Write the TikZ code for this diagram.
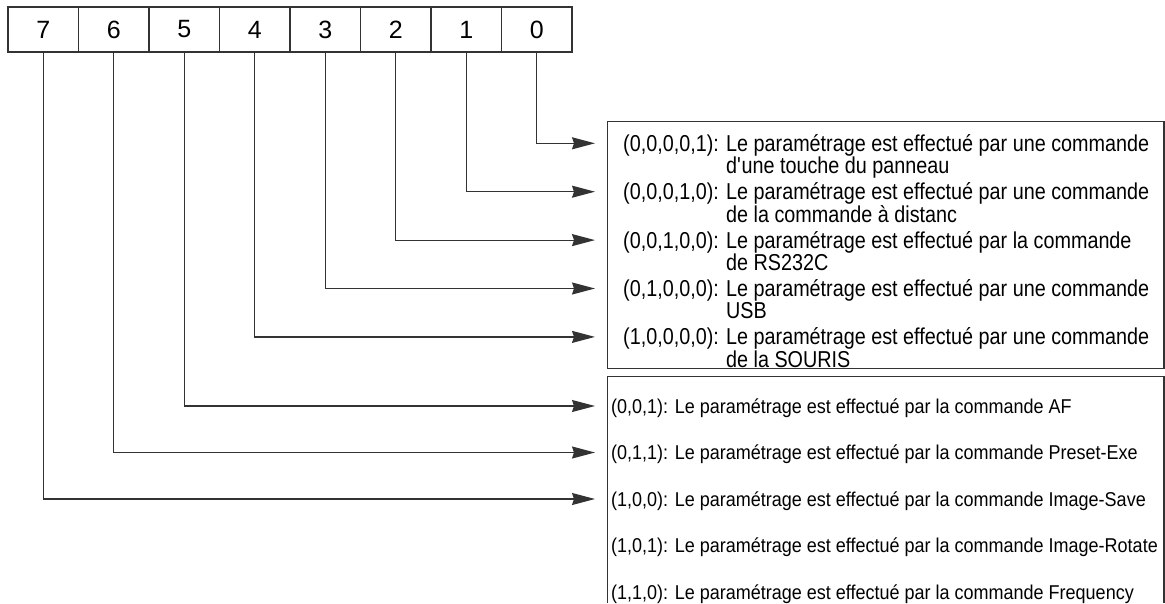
\documentclass[tikz,border=0pt]{standalone}
\usepackage{fontspec}
\setmainfont{Liberation Sans}
\newfontfamily\narrowsans{Liberation Sans}[FakeStretch=0.86]
\newfontfamily\condsans{Liberation Sans}[FakeStretch=0.9]
\usepackage{tikz}
\usetikzlibrary{arrows.meta, positioning}
\definecolor{wiregray}{RGB}{51, 51, 51}

\tikzset{
    bitcell/.style={draw=wiregray, line width=1.2pt, minimum width=70.5pt, minimum height=45pt,
        inner sep=0pt, outer sep=0pt, font=\fontsize{25}{30}\selectfont},
    wire/.style={draw=wiregray, line width=1.2pt, -{Stealth[length=23pt, width=12pt, inset=2pt]}},
    frame/.style={draw=wiregray, line width=1.2pt},
    srcline/.style={anchor=base west, inner sep=0pt, font=\narrowsans\fontsize{23}{20}\selectfont},
    cmdline/.style={anchor=base west, inner sep=0pt, font=\condsans\fontsize{20}{20}\selectfont}
}

\begin{document}
\begin{tikzpicture}[x=1pt, y=-1pt]
    \useasboundingbox (0,0) rectangle (1165,603);

    % Register bits
    \node[bitcell] (b7) at (43.25,29.5) {7};
    \node[bitcell, right=0pt of b7] (b6) {6};
    \node[bitcell, right=0pt of b6] (b5) {5};
    \node[bitcell, right=0pt of b5] (b4) {4};
    \node[bitcell, right=0pt of b4] (b3) {3};
    \node[bitcell, right=0pt of b3] (b2) {2};
    \node[bitcell, right=0pt of b2] (b1) {1};
    \node[bitcell, right=0pt of b1] (b0) {0};

    % Frames round the settings
    \draw[frame] (607.5,121.5) rectangle (1164,368.5);
    \draw[frame] (607.5,603) -- (607.5,376.5) -- (1164,376.5) -- (1164,603);

    % Arrow ends
    \coordinate (in0) at (595,143.3);
    \coordinate (in1) at (595,191.7);
    \coordinate (in2) at (595,240.1);
    \coordinate (in3) at (595,288.5);
    \coordinate (in4) at (595,336.9);
    \coordinate (in5) at (595,406);
    \coordinate (in6) at (595,452.5);
    \coordinate (in7) at (595,499);

    % Bit lines
    \draw[wire] (b0.south) |- (in0);
    \draw[wire] (b1.south) |- (in1);
    \draw[wire] (b2.south) |- (in2);
    \draw[wire] (b3.south) |- (in3);
    \draw[wire] (b4.south) |- (in4);
    \draw[wire] (b5.south) |- (in5);
    \draw[wire] (b6.south) |- (in6);
    \draw[wire] (b7.south) |- (in7);

    % Source of the setting (bits 0-4)
    \node[srcline] (s0) at (623,151.3) {\begin{tabular}[t]{@{}l@{ }l@{}}(0,0,0,0,1): & Le paramétrage est effectué par une commande\\ & d\textquotesingle une touche du panneau\end{tabular}};
    \node[srcline] (s1) at (623,199.7) {\begin{tabular}[t]{@{}l@{ }l@{}}(0,0,0,1,0): & Le paramétrage est effectué par une commande\\ & de la commande à distanc\end{tabular}};
    \node[srcline] (s2) at (623,248.1) {\begin{tabular}[t]{@{}l@{ }l@{}}(0,0,1,0,0): & Le paramétrage est effectué par la commande\\ & de RS232C\end{tabular}};
    \node[srcline] (s3) at (623,296.5) {\begin{tabular}[t]{@{}l@{ }l@{}}(0,1,0,0,0): & Le paramétrage est effectué par une commande\\ & USB\end{tabular}};
    \node[srcline] (s4) at (623,344.9) {\begin{tabular}[t]{@{}l@{ }l@{}}(1,0,0,0,0): & Le paramétrage est effectué par une commande\\ & de la SOURIS\end{tabular}};

    % Command (bits 5-7)
    \node[cmdline] (m0) at (611,413) {(0,0,1): Le paramétrage est effectué par la commande AF};
    \node[cmdline] (m1) at (611,459.5) {(0,1,1): Le paramétrage est effectué par la commande Preset-Exe};
    \node[cmdline] (m2) at (611,506) {(1,0,0): Le paramétrage est effectué par la commande Image-Save};
    \node[cmdline] (m3) at (611,552.5) {(1,0,1): Le paramétrage est effectué par la commande Image-Rotate};
    \node[cmdline] (m4) at (611,599) {(1,1,0): Le paramétrage est effectué par la commande Frequency};
\end{tikzpicture}
\end{document}
